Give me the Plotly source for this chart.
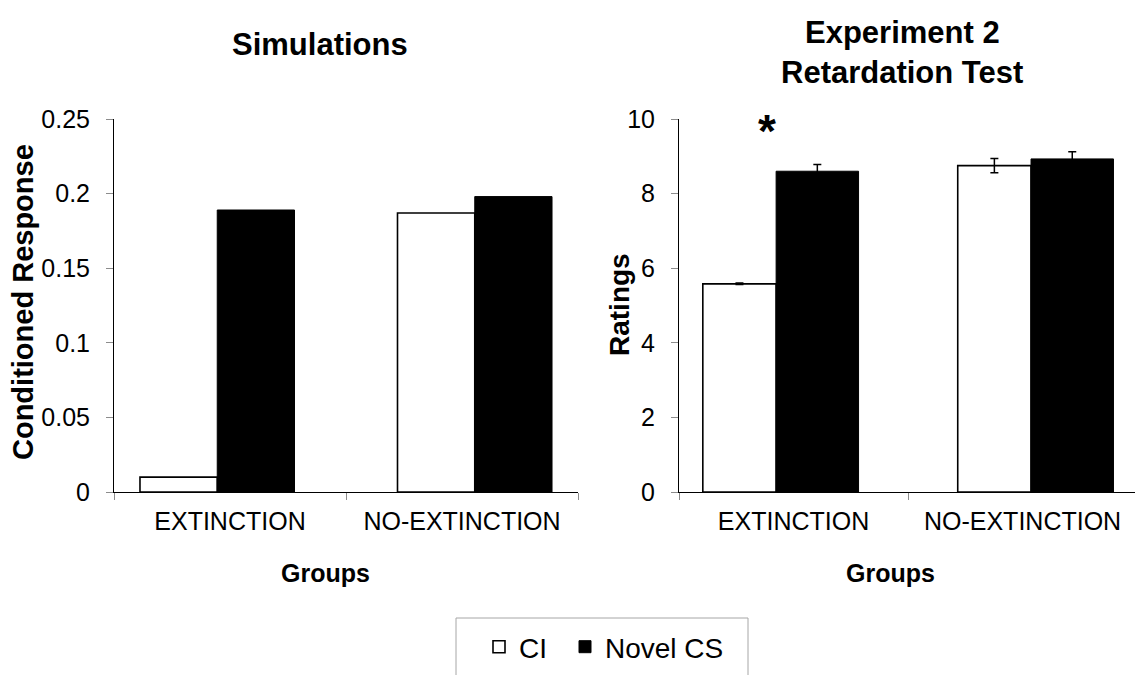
import plotly.graph_objects as go

# ---------------- data ----------------
groups = ["EXTINCTION", "NO-EXTINCTION"]
series_names = ["CI", "Novel CS"]

sim_ci = [0.010, 0.187]
sim_novel = [0.189, 0.198]

exp_ci = [5.58, 8.75]
exp_ci_err = [0.02, 0.19]
exp_novel = [8.60, 8.93]
exp_novel_err = [0.18, 0.19]

sim_yticks = [0, 0.05, 0.1, 0.15, 0.2, 0.25]
sim_yticktext = ["0", "0.05", "0.1", "0.15", "0.2", "0.25"]
exp_yticks = [0, 2, 4, 6, 8, 10]
exp_yticktext = ["0", "2", "4", "6", "8", "10"]

# ---------------- layout helpers ----------------
W, H = 1135, 675


def px(x):
    return x / W


def py(y):
    return 1 - y / H


FONT = "Liberation Sans, Arial, Helvetica, sans-serif"
TICK = dict(family=FONT, size=25, color="black")

fig = go.Figure()

# group shift of bars (Excel-like asymmetric placement)
shift = [-0.055, 0.055]

# ---- left panel (Simulations) ----
wl = 0.333
fig.add_trace(go.Bar(
    x=groups, y=sim_ci, name=series_names[0], xaxis="x", yaxis="y",
    marker=dict(color="white", line=dict(color="black", width=1.6)),
    width=[wl] * len(groups), offset=[-wl + s for s in shift],
    showlegend=True, legend="legend",
))
fig.add_trace(go.Bar(
    x=groups, y=sim_novel, name=series_names[1], xaxis="x", yaxis="y",
    marker=dict(color="black", line=dict(color="black", width=1)),
    width=[wl] * len(groups), offset=[0 + s for s in shift],
    showlegend=True, legend="legend2",
))

# ---- right panel (Experiment 2) ----
wci, wnv, j = 0.32, 0.36, -0.02
shift2 = [-0.056, 0.057]
fig.add_trace(go.Bar(
    x=groups, y=exp_ci, name=series_names[0], xaxis="x2", yaxis="y2",
    marker=dict(color="white", line=dict(color="black", width=1.6)),
    width=[wci] * len(groups), offset=[j - wci + s for s in shift2],
    error_y=dict(type="data", array=exp_ci_err, color="black", thickness=1.5, width=4),
    showlegend=False,
))
fig.add_trace(go.Bar(
    x=groups, y=exp_novel, name=series_names[1], xaxis="x2", yaxis="y2",
    marker=dict(color="black", line=dict(color="black", width=1)),
    width=[wnv] * len(groups), offset=[j + s for s in shift2],
    error_y=dict(type="data", array=exp_novel_err, color="black", thickness=1.5, width=4),
    showlegend=False,
))

xcommon = dict(
    type="category", tickson="boundaries", ticks="outside", ticklen=7,
    tickcolor="#8c8c8c", tickwidth=1, showline=True, linecolor="black",
    linewidth=1, showgrid=False, zeroline=False, tickfont=TICK,
    tickangle=0, automargin=False, ticklabelstandoff=7,
)
ycommon = dict(
    ticks="outside", ticklen=7, tickcolor="#8c8c8c", tickwidth=1,
    showline=True, linecolor="black", linewidth=1, showgrid=False,
    zeroline=False, tickfont=TICK, ticklabelstandoff=11, automargin=False,
)

ydom = [py(492), py(119)]
LEG_FONT = dict(family=FONT, size=28, color="black")

fig.update_layout(
    width=W, height=H,
    margin=dict(l=0, r=0, t=0, b=0, autoexpand=False),
    paper_bgcolor="white", plot_bgcolor="white",
    barmode="overlay",
    xaxis=dict(domain=[px(114), px(578)], range=[-0.5, 1.5], anchor="y", **xcommon),
    yaxis=dict(domain=ydom, range=[0, 0.25], anchor="x", tickvals=sim_yticks,
               ticktext=sim_yticktext, **ycommon),
    xaxis2=dict(domain=[px(679), 1.0], range=[-0.5, 1.491], anchor="y2", **xcommon),
    yaxis2=dict(domain=ydom, range=[0, 10], anchor="x2", tickvals=exp_yticks,
                ticktext=exp_yticktext, **ycommon),
    showlegend=True,
    legend=dict(
        orientation="h", x=px(479), xanchor="left", y=py(647), yanchor="middle",
        font=LEG_FONT, bgcolor="rgba(0,0,0,0)", borderwidth=0,
    ),
    legend2=dict(
        orientation="h", x=px(565), xanchor="left", y=py(647), yanchor="middle",
        font=LEG_FONT, bgcolor="rgba(0,0,0,0)", borderwidth=0,
    ),
    shapes=[dict(
        type="rect", xref="paper", yref="paper",
        x0=px(456), x1=px(748), y0=py(618), y1=py(690),
        line=dict(color="#a6a6a6", width=1), fillcolor="rgba(0,0,0,0)",
    )],
    annotations=[
        dict(text="<b>Simulations</b>", x=px(320), y=py(45), xref="paper", yref="paper",
             showarrow=False, xanchor="center", yanchor="middle",
             font=dict(family=FONT, size=31, color="black")),
        dict(text="<b>Experiment 2</b>", x=px(902), y=py(33), xref="paper", yref="paper",
             showarrow=False, xanchor="center", yanchor="middle",
             font=dict(family=FONT, size=31, color="black")),
        dict(text="<b>Retardation Test</b>", x=px(902), y=py(72), xref="paper", yref="paper",
             showarrow=False, xanchor="center", yanchor="middle",
             font=dict(family=FONT, size=31, color="black")),
        dict(text="<b>Conditioned Response</b>", x=px(23), y=py(302), xref="paper", yref="paper",
             showarrow=False, textangle=-90, xanchor="center", yanchor="middle",
             font=dict(family=FONT, size=29, color="black")),
        dict(text="<b>Ratings</b>", x=px(619), y=py(305), xref="paper", yref="paper",
             showarrow=False, textangle=-90, xanchor="center", yanchor="middle",
             font=dict(family=FONT, size=28, color="black")),
        dict(text="<b>Groups</b>", x=px(325), y=py(573), xref="paper", yref="paper",
             showarrow=False, xanchor="center", yanchor="middle",
             font=dict(family=FONT, size=25, color="black")),
        dict(text="<b>Groups</b>", x=px(890), y=py(573), xref="paper", yref="paper",
             showarrow=False, xanchor="center", yanchor="middle",
             font=dict(family=FONT, size=25, color="black")),
        dict(text="<b>*</b>", x=px(767), y=py(131), xref="paper", yref="paper",
             showarrow=False, xanchor="center", yanchor="middle",
             font=dict(family=FONT, size=46, color="black")),
    ],
)

fig.write_html("out.html")
